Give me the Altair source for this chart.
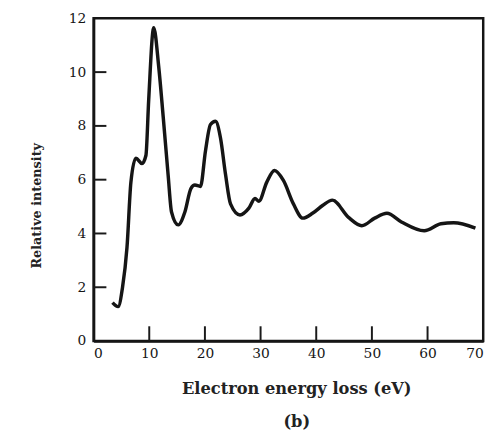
import altair as alt
import pandas as pd

energy = [3.4, 4.4, 5.2, 6.0, 6.7, 7.6, 8.7, 9.4, 9.9, 10.8, 11.7, 12.5, 13.4, 14.0,
          15.2, 16.4, 17.5, 18.2, 19.2, 20.1, 21.0, 21.9, 22.8, 23.7, 24.6, 26.3,
          27.9, 29.0, 29.7, 31.1, 32.5, 34.1, 35.9, 37.6, 39.4, 41.2, 42.9, 45.8,
          48.2, 50.5, 52.7, 55.3, 59.4, 62.4, 64.7, 68.6]
intensity = [1.43, 1.28, 2.0, 3.48, 5.9, 6.8, 6.6, 6.9, 8.97, 11.65, 10.2, 8.35, 6.15, 4.8,
             4.32, 4.8, 5.68, 5.8, 5.75, 7.07, 8.05, 8.17, 7.55, 6.2, 5.1, 4.69,
             4.94, 5.3, 5.2, 5.9, 6.34, 5.97, 5.1, 4.57, 4.76, 5.05, 5.24, 4.6,
             4.29, 4.57, 4.75, 4.43, 4.1, 4.36, 4.4, 4.2]

x_labels = [0, 10, 20, 30, 40, 50, 60, 70]
x_ticks = [10, 20, 30, 40, 50, 60]
y_labels = [0, 2, 4, 6, 8, 10, 12]
y_ticks = [2, 4, 6, 8, 10]

df = pd.DataFrame({"E": energy, "I": intensity})
xt = pd.DataFrame({"TX": x_ticks, "TY": [0.0] * len(x_ticks)})
yt = pd.DataFrame({"TX": [0.0] * len(y_ticks), "TY": y_ticks})

FONT = "DejaVu Serif"
INK = "#151515"
xs = alt.Scale(domain=[0, 70], nice=False, zero=False)
ys = alt.Scale(domain=[0, 12], nice=False)

line = alt.Chart(df).mark_line(
    color=INK, strokeWidth=3.5, interpolate="monotone"
).encode(
    x=alt.X("E:Q", scale=xs, axis=alt.Axis(
        values=x_labels, ticks=False, grid=False, domain=True,
        domainColor=INK, domainWidth=2.5,
        labelFont=FONT, labelFontSize=14, labelColor=INK, labelPadding=6,
        title=["Electron energy loss (eV)", "(b)"],
        titleFont=FONT, titleFontSize=16.5, titleFontWeight="bold",
        titleColor="#222222", titleLineHeight=34, titleX=206, titleY=40,
        orient="bottom")),
    y=alt.Y("I:Q", scale=ys, axis=alt.Axis(
        values=y_labels, ticks=False, grid=False, domain=True,
        domainColor=INK, domainWidth=2.5,
        labelFont=FONT, labelFontSize=14, labelColor=INK, labelPadding=8,
        title="Relative intensity", titleFont=FONT, titleFontSize=13,
        titleFontWeight="bold", titleColor="#222222",
        titleX=-58, titleY=190, titleBaseline="middle",
        orient="left")),
)

# inward ticks: short path symbols anchored on the axes (path scaled by sqrt(size)/2)
xtick_layer = alt.Chart(xt).mark_point(
    shape="M0,0L0,-2", size=225, filled=False, color="#1a1a1a",
    strokeWidth=2, opacity=1
).encode(x=alt.X("TX:Q", scale=xs), y=alt.Y("TY:Q", scale=ys))

ytick_layer = alt.Chart(yt).mark_point(
    shape="M0,0L2,0", size=169, filled=False, color="#1a1a1a",
    strokeWidth=2, opacity=1
).encode(x=alt.X("TX:Q", scale=xs), y=alt.Y("TY:Q", scale=ys))

chart = alt.layer(line, xtick_layer, ytick_layer).properties(
    width=396, height=328,
    autosize=alt.AutoSizeParams(type="none"),
    padding={"left": 87, "top": 7, "right": 13, "bottom": 92},
    background="white",
).configure_view(stroke=INK, strokeWidth=2.5)

chart.save("out.html", embed_options={"renderer": "svg", "actions": False})
